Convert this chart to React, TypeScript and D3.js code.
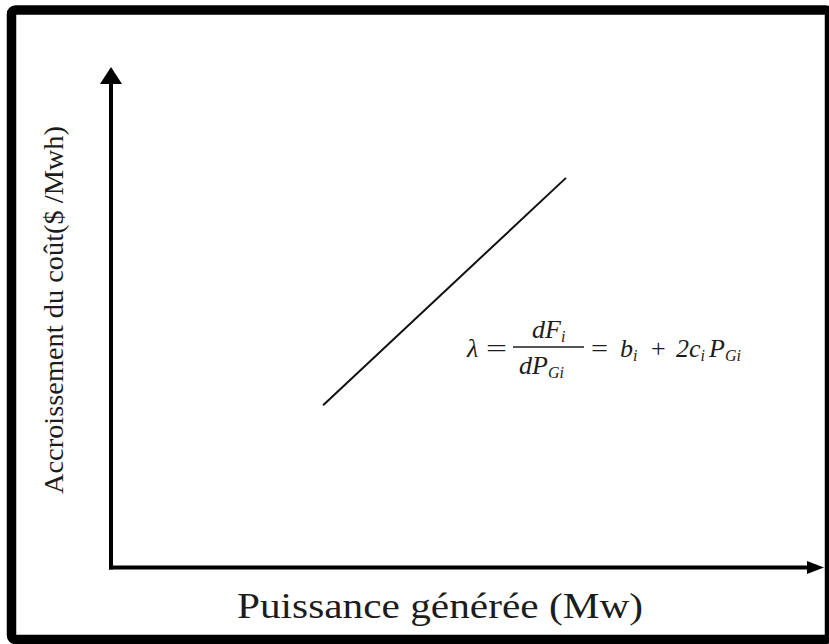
import React from "react";
import * as d3 from "d3";

// Incremental cost characteristic: λ rises linearly with generated power
const powerMW: number[] = [30.3, 65];
const lambdaCost: number[] = [32.5, 78];

const xAxisLabel = "Puissance générée (Mw)";
const yAxisLabel = "Accroissement du coût($ /Mwh)";

const W = 829;
const H = 644;

export default function App() {
  const originX = 111;
  const originY = 567.5;
  const x = d3.scaleLinear().domain([0, 100]).range([originX, 811]);
  const y = d3.scaleLinear().domain([0, 100]).range([originY, 68]);

  const pts: [number, number][] = powerMW.map((p, i) => [p, lambdaCost[i]]);
  const linePath = d3
    .line<[number, number]>()
    .x((d) => x(d[0]))
    .y((d) => y(d[1]))(pts);

  const serif = "Liberation Serif";
  const ink = "#1c1c1c";

  const xTip = 824;
  const yTip = 67;
  const headL = 17;
  const headW = 11;

  const fs = 26;
  const sub = 16;

  return (
    <svg
      width={W}
      height={H}
      style={{ position: "absolute", left: 0, top: 0, background: "#fff" }}
    >
      <rect x={0} y={0} width={W} height={H} fill="#fff" />
      {/* outer frame */}
      <rect
        x={11.5}
        y={10}
        width={818}
        height={629.5}
        rx={4}
        fill="none"
        stroke="#000"
        strokeWidth={9.5}
      />

      {/* axes with arrowheads */}
      <line x1={originX - 2} y1={originY} x2={xTip - headL + 2} y2={originY} stroke="#000" strokeWidth={4} />
      <polygon
        points={`${xTip},${originY} ${xTip - headL},${originY - headW / 2 - 1} ${xTip - headL},${originY + headW / 2 + 1}`}
        fill="#000"
      />
      <line x1={originX} y1={originY + 2} x2={originX} y2={yTip + headL - 2} stroke="#000" strokeWidth={4} />
      <polygon
        points={`${originX},${yTip} ${originX - headW},${yTip + headL} ${originX + headW},${yTip + headL}`}
        fill="#000"
      />

      {/* λ(P) line */}
      <path d={linePath ?? ""} fill="none" stroke="#111" strokeWidth={2} />

      {/* formula */}
      <g style={{ fontFamily: serif }} fontSize={fs} fill={ink}>
        <text x={467} y={357} fontStyle="italic">λ</text>
        <text x={486} y={357} textLength={21} lengthAdjust="spacingAndGlyphs">=</text>
        <text x={532} y={338} fontStyle="italic">
          dF<tspan fontSize={sub} dy={4}>i</tspan>
        </text>
        <line x1={513} y1={347} x2={584} y2={347} stroke={ink} strokeWidth={1.3} />
        <text x={519} y={374} fontStyle="italic">
          dP<tspan fontSize={sub} dy={4}>Gi</tspan>
        </text>
        <text x={591} y={357} textLength={17} lengthAdjust="spacingAndGlyphs">=</text>
        <text x={620} y={357} fontStyle="italic">
          b<tspan fontSize={sub} dy={4}>i</tspan>
        </text>
        <text x={651} y={357}>+</text>
        <text x={676} y={357} fontStyle="italic">
          2c<tspan fontSize={sub} dy={4}>i</tspan>
        </text>
        <text x={709} y={357} fontStyle="italic">
          P<tspan fontSize={sub} dy={4}>Gi</tspan>
        </text>
      </g>

      {/* axis titles */}
      <text
        x={440}
        y={618}
        textAnchor="middle"
        style={{ fontFamily: serif }}
        fontSize={35}
        fill={ink}
        textLength={406}
        lengthAdjust="spacingAndGlyphs"
      >
        {xAxisLabel}
      </text>
      <text
        transform="translate(63,310) rotate(-90)"
        textAnchor="middle"
        style={{ fontFamily: serif }}
        fontSize={27}
        fill={ink}
        textLength={368}
        lengthAdjust="spacingAndGlyphs"
      >
        {yAxisLabel}
      </text>
    </svg>
  );
}
